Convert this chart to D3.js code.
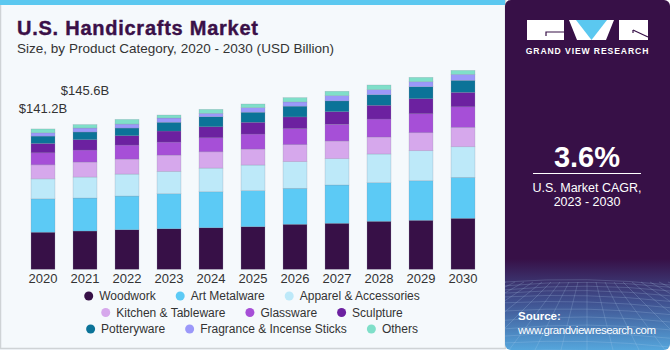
<!DOCTYPE html>
<html>
<head>
<meta charset="utf-8">
<script src="https://cdn.jsdelivr.net/npm/d3@7"></script>
<style>
  html, body { margin: 0; padding: 0; background: #fff; }
  svg { display: block; font-family: "Liberation Sans", Arial, sans-serif; }
</style>
</head>
<body>
<script>
// data (USD billion)
const years = ["2020", "2021", "2022", "2023", "2024", "2025", "2026", "2027", "2028", "2029", "2030"];
const categories = ["Woodwork", "Art Metalware", "Apparel & Accessories", "Kitchen & Tableware",
  "Glassware", "Sculpture", "Potteryware", "Fragrance & Incense Sticks", "Others"];
const woodwork     = [37.3, 38.5, 39.8, 40.8, 41.8, 42.9, 45.3, 46.3, 48.3, 49.3, 51.3];
const artMetalware = [33.6, 33.2, 33.9, 35.2, 36.2, 36.2, 36.2, 38.5, 38.8, 39.8, 41.2];
const apparel      = [20.1, 21.1, 22.1, 22.5, 23.8, 25.8, 26.8, 26.5, 28.9, 30.2, 30.8];
const kitchen      = [14.1, 15.1, 15.1, 16.4, 16.4, 16.1, 17.1, 17.8, 17.1, 18.1, 19.5];
const glassware    = [12.1, 12.1, 14.1, 13.1, 14.1, 15.1, 16.1, 16.8, 18.1, 19.1, 20.7];
const sculpture    = [9.4, 10.4, 9.4, 11.1, 11.1, 11.8, 11.8, 12.7, 13.8, 15.1, 14.5];
const potteryware  = [7.4, 7.7, 7.7, 8.8, 10.1, 10.1, 10.8, 10.8, 10.7, 12.1, 12.1];
const fragrance    = [3.3, 4.0, 4.0, 4.3, 3.4, 4.6, 4.3, 5.3, 5.0, 5.0, 6.0];
const others       = [3.9, 3.5, 4.7, 3.0, 4.0, 3.7, 4.3, 4.4, 4.7, 4.4, 4.0];
const seriesValues = [woodwork, artMetalware, apparel, kitchen, glassware, sculpture, potteryware, fragrance, others];
const colors = ["#371047", "#5ccaf5", "#bde9f9", "#d6a8ec", "#a64fd7", "#6c21a0", "#0b7398", "#9b98f9", "#7fdfc9"];
const valueLabels = [{year: "2020", text: "$141.2B", lift: 16}, {year: "2021", text: "$145.6B", lift: 30}];
const cagrText = "3.6%";

const W = 670, H = 350, panelX = 505;
const svg = d3.select("body").append("svg").attr("width", W).attr("height", H);

const defs = svg.append("defs");
const grad = defs.append("linearGradient").attr("id", "pg").attr("x1", 0).attr("y1", 0).attr("x2", 0).attr("y2", 1);
grad.append("stop").attr("offset", "0.74").attr("stop-color", "#371047");
grad.append("stop").attr("offset", "0.86").attr("stop-color", "#3f4f8e");
grad.append("stop").attr("offset", "1").attr("stop-color", "#55a6dc");
defs.append("clipPath").attr("id", "pc").append("rect")
  .attr("x", panelX).attr("y", 0).attr("width", W - panelX).attr("height", H).attr("rx", 6);

// chart background
svg.append("rect").attr("x", 0).attr("y", 0).attr("width", panelX).attr("height", H).attr("fill", "#f5f9fc");
svg.append("rect").attr("x", 0.5).attr("y", 0).attr("width", panelX).attr("height", H - 1.5)
  .attr("fill", "none").attr("stroke", "#cfd3d6").attr("stroke-width", 1.5);
svg.append("rect").attr("x", 0).attr("y", 0).attr("width", panelX).attr("height", 5).attr("fill", "#5bc8f0");

// title
svg.append("text").attr("x", 17).attr("y", 35).attr("font-size", 20).attr("font-weight", "bold")
  .attr("fill", "#3a1048").attr("stroke", "#3a1048").attr("stroke-width", 0.4)
  .attr("textLength", 241).text("U.S. Handicrafts Market");
svg.append("text").attr("x", 17).attr("y", 52.5).attr("font-size", 13.5).attr("fill", "#333")
  .attr("textLength", 317).text("Size, by Product Category, 2020 - 2030 (USD Billion)");

// scales
const x = d3.scaleBand().domain(years).range([22, 484]).paddingInner(0.43).paddingOuter(0.215);
const y = d3.scaleLinear().domain([0, 200]).range([269.3, 70.5]);

const table = years.map((yr, i) => {
  const row = {year: yr};
  categories.forEach((c, k) => row[c] = seriesValues[k][i]);
  return row;
});
const stacked = d3.stack().keys(categories)(table);

svg.append("g").selectAll("g").data(stacked).join("g")
  .attr("fill", (d, i) => colors[i])
  .selectAll("rect").data(d => d).join("rect")
  .attr("x", d => x(d.data.year))
  .attr("y", d => y(d[1]))
  .attr("width", x.bandwidth())
  .attr("height", d => y(d[0]) - y(d[1]))
  .attr("stroke", "rgba(120,130,150,0.35)")
  .attr("stroke-width", 0.6);

// x axis labels
const xAxis = svg.append("g").attr("transform", "translate(0,269)")
  .call(d3.axisBottom(x).tickSize(0).tickPadding(5));
xAxis.select(".domain").remove();
xAxis.selectAll("text").attr("font-size", 13).attr("fill", "#333")
  .attr("font-family", "'Liberation Sans', Arial, sans-serif");

// value labels
const totals = table.map((r, i) => d3.sum(seriesValues, s => s[i]));
svg.selectAll(".vlab").data(valueLabels).join("text").attr("class", "vlab")
  .attr("x", d => x(d.year) + x.bandwidth() / 2)
  .attr("y", d => y(totals[years.indexOf(d.year)]) - d.lift)
  .attr("text-anchor", "middle").attr("font-size", 13).attr("fill", "#333")
  .text(d => d.text);

// legend
const rows = [[0, 1, 2], [3, 4, 5], [6, 7, 8]];
const legendCx = 252;
rows.forEach((row, ri) => {
  const g = svg.append("g");
  let cx = 0;
  row.forEach(k => {
    const it = g.append("g").attr("transform", `translate(${cx},0)`);
    it.append("circle").attr("cx", 4.5).attr("cy", 0).attr("r", 4.5).attr("fill", colors[k]);
    const t = it.append("text").attr("x", 15).attr("y", 4.3).attr("font-size", 12).attr("fill", "#333").text(categories[k]);
    cx += 15 + t.node().getComputedTextLength() + 20;
  });
  const total = cx - 20;
  g.attr("transform", `translate(${legendCx - total / 2},${296 + ri * 16.5})`);
});

// right panel
const panel = svg.append("g").attr("clip-path", "url(#pc)");
panel.append("rect").attr("x", panelX).attr("y", 0).attr("width", W - panelX).attr("height", H).attr("fill", "url(#pg)");

// perspective grid at bottom of panel
const gridG = panel.append("g").attr("stroke", "#b9d4f0").attr("stroke-opacity", 0.3).attr("stroke-width", 0.7).attr("fill", "none");
const horizon = 282;
d3.range(0, 14).forEach(i => {
  const yy = horizon + Math.pow(i, 1.45) * 2.2;
  gridG.append("path").attr("d", `M${panelX},${yy + Math.sin(i) * 2} Q${587},${yy - 6} ${W},${yy + 3}`);
});
d3.range(-20, 21).forEach(i => {
  gridG.append("line").attr("x1", 587 + i * 9).attr("y1", horizon).attr("x2", 587 + i * 26).attr("y2", H);
});

// logo
const logo = svg.append("g");
logo.append("rect").attr("x", 527).attr("y", 20).attr("width", 37).attr("height", 20).attr("fill", "#fff");
logo.append("path").attr("d", "M546,36 V32 H564").attr("stroke", "#371047").attr("stroke-width", 1.2).attr("fill", "none");
logo.append("path").attr("d", "M569,20 H614 L606,40 H577 Z").attr("fill", "#fff");
logo.append("path").attr("d", "M576,20 H607 L591.5,40 Z").attr("fill", "#5bc8f0");
logo.append("rect").attr("x", 619).attr("y", 20).attr("width", 29).attr("height", 20).attr("fill", "#fff");
logo.append("path").attr("d", "M633,30 L648,37").attr("stroke", "#371047").attr("stroke-width", 1.2);
logo.append("path").attr("d", "M633,30 V33").attr("stroke", "#371047").attr("stroke-width", 1.2);
svg.append("text").attr("x", 587.5).attr("y", 53.5).attr("text-anchor", "middle").attr("font-size", 8.6)
  .attr("font-weight", "bold").attr("fill", "#fff").attr("letter-spacing", 0.9).text("GRAND VIEW RESEARCH");

// CAGR
svg.append("text").attr("x", 587).attr("y", 167).attr("text-anchor", "middle").attr("font-size", 29)
  .attr("font-weight", "bold").attr("fill", "#fff").text(cagrText);
svg.append("line").attr("x1", 533).attr("x2", 641).attr("y1", 173.5).attr("y2", 173.5)
  .attr("stroke", "#fff").attr("stroke-width", 1);
svg.append("text").attr("x", 587).attr("y", 192).attr("text-anchor", "middle").attr("font-size", 12.5)
  .attr("fill", "#fff").text("U.S. Market CAGR,");
svg.append("text").attr("x", 587).attr("y", 206).attr("text-anchor", "middle").attr("font-size", 12.5)
  .attr("fill", "#fff").text("2023 - 2030");

// source
svg.append("text").attr("x", 518).attr("y", 320).attr("font-size", 11.5).attr("font-weight", "bold")
  .attr("fill", "#fff").text("Source:");
svg.append("text").attr("x", 518).attr("y", 334).attr("font-size", 11.5).attr("fill", "#fff")
  .attr("textLength", 138).text("www.grandviewresearch.com");
</script>
</body>
</html>
